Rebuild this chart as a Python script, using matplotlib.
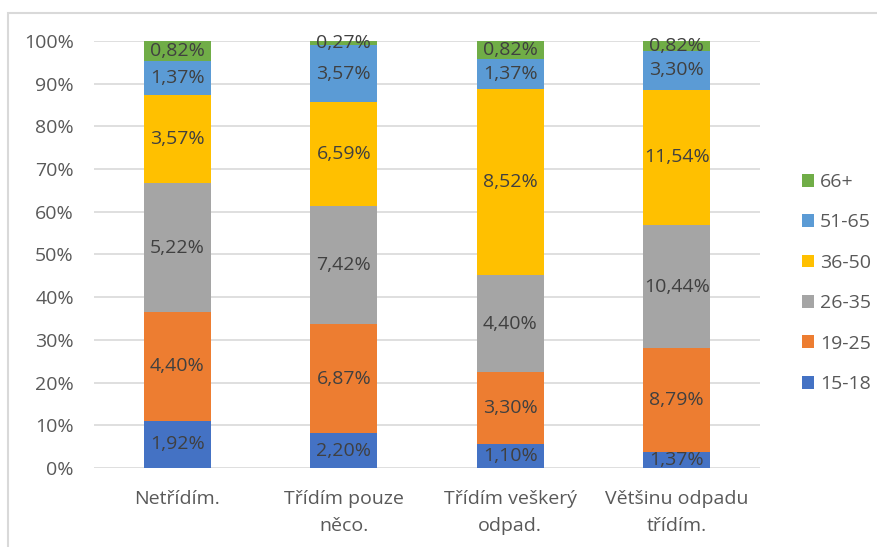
import matplotlib
matplotlib.use("Agg")
import matplotlib.pyplot as plt
from matplotlib.patches import Rectangle
import numpy as np

plt.rcParams['font.family'] = ['Open Sans', 'DejaVu Sans']

categories = ["Netřídím.", "Třídím pouze\nněco.", "Třídím veškerý\nodpad.", "Většinu odpadu\ntřídím."]
series_names = ["15-18", "19-25", "26-35", "36-50", "51-65", "66+"]
values = {
    "15-18": [1.92, 2.20, 1.10, 1.37],
    "19-25": [4.40, 6.87, 3.30, 8.79],
    "26-35": [5.22, 7.42, 4.40, 10.44],
    "36-50": [3.57, 6.59, 8.52, 11.54],
    "51-65": [1.37, 3.57, 1.37, 3.30],
    "66+":   [0.82, 0.27, 0.82, 0.82],
}
colors = {
    "15-18": "#4472C4",
    "19-25": "#ED7D31",
    "26-35": "#A5A5A5",
    "36-50": "#FFC000",
    "51-65": "#5B9BD5",
    "66+":   "#70AD47",
}
yticks = [0, 10, 20, 30, 40, 50, 60, 70, 80, 90, 100]

fig = plt.figure(figsize=(8.77, 5.47), dpi=100)
ax = fig.add_axes([94/877, 1-468/547, (760-94)/877, (468-41)/547])

x = np.arange(len(categories))
totals = np.sum([values[s] for s in series_names], axis=0)
bottom = np.zeros(len(categories))
handles = []
for s in series_names:
    v = np.array(values[s])
    pct = v / totals * 100
    b = ax.bar(x, pct, 0.4, bottom=bottom, color=colors[s], label=s, zorder=2)
    handles.append(b)
    for xi, p, bo, val in zip(x, pct, bottom, v):
        ax.text(xi, bo + p/2, f"{val:.2f}%".replace(".", ","), ha="center", va="center",
                fontsize=14, color="#404040", zorder=3)
    bottom += pct

ax.set_xlim(-0.5, len(categories) - 0.5)
ax.set_ylim(0, 100)
ax.set_yticks(yticks)
ax.set_yticklabels([f"{t}%" for t in yticks])
ax.set_xticks(x)
ax.set_xticklabels(categories)
ax.tick_params(axis='both', length=0, labelsize=14, colors="#595959")
ax.tick_params(axis='y', pad=14.5)
ax.tick_params(axis='x', pad=16)
for t in ax.get_xticklabels():
    t.set_linespacing(1.65)
ax.grid(axis='y', color="#d9d9d9", linewidth=1.2, zorder=0)
for sp in ax.spines.values():
    sp.set_visible(False)

leg = fig.legend(handles[::-1], series_names[::-1], loc="center left",
                 bbox_to_anchor=(784/877, 1-283/547), frameon=False,
                 fontsize=14, labelspacing=1.15, handlelength=0.65, handleheight=0.65,
                 handletextpad=0.3, labelcolor="#595959")

fig.patches.append(Rectangle((8/877, -0.05), 1.0, 1-13/547+0.05, transform=fig.transFigure,
                             fill=False, edgecolor="#d9d9d9", linewidth=1.5))

fig.savefig("out.png", dpi=100)
